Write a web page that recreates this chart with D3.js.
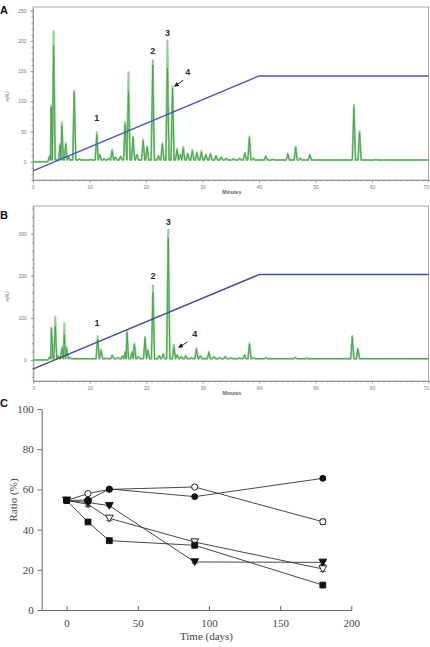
<!DOCTYPE html>
<html>
<head>
<meta charset="utf-8">
<script src="https://cdn.jsdelivr.net/npm/d3@7"></script>
<style>
  body { margin: 0; background: #fff; }
  svg { display: block; }
</style>
</head>
<body>
<script>
// ---------- panels A and B: chromatograms ----------
// each peak: [retention time (min), light trace mAU, dark trace mAU]
const peaksA = [
  [3.0, 10, 10], [3.2, 93, 90], [3.65, 216, 192], [4.8, 30, 28], [5.1, 65, 60],
  [5.8, 31, 29], [6.3, 8, 8], [7.3, 117, 115], [8.2, 5, 5], [9.0, 3, 3],
  [10.2, 4, 4], [11.3, 49, 45], [11.8, 12, 12], [12.6, 5, 5], [13.4, 6, 6],
  [14.0, 21, 18], [14.6, 8, 8], [15.5, 9, 9], [16.3, 66, 62], [16.9, 148, 116],
  [17.7, 42, 40], [18.4, 12, 12], [19.5, 37, 35], [20.2, 26, 24], [21.2, 168, 160],
  [22.2, 10, 10], [22.9, 31, 29], [23.8, 200, 155], [24.7, 125, 122], [25.5, 22, 20],
  [26.1, 12, 12], [26.6, 25, 22], [27.4, 14, 14], [28.2, 20, 18], [29.0, 16, 15],
  [29.8, 18, 16], [30.6, 12, 12], [31.4, 14, 13], [32.4, 10, 10], [33.3, 8, 8],
  [34.2, 6, 6], [35.5, 5, 5], [36.6, 6, 6], [37.5, 15, 14], [38.3, 42, 40],
  [39.0, 6, 6], [41.2, 10, 9], [42.5, 4, 4], [45.1, 14, 13], [46.5, 25, 24],
  [47.3, 6, 6], [49.0, 12, 11], [56.8, 94, 90], [57.8, 51, 48], [60.7, 4, 4]
];
const peaksB = [
  [3.0, 8, 8], [3.2, 77, 75], [3.9, 103, 80], [4.4, 10, 10], [5.1, 30, 28],
  [5.5, 87, 60], [5.9, 30, 28], [6.5, 6, 6], [8.5, 3, 3], [10.0, 3, 3],
  [11.4, 57, 50], [12.0, 25, 22], [13.0, 4, 4], [14.0, 12, 10], [15.0, 6, 6],
  [15.8, 10, 10], [16.3, 20, 18], [16.6, 69, 65], [17.5, 20, 18], [17.9, 40, 38],
  [18.6, 8, 8], [19.8, 55, 52], [20.3, 25, 22], [21.2, 177, 160], [22.3, 10, 10],
  [23.0, 15, 14], [23.9, 310, 290], [24.9, 36, 30], [25.5, 12, 12], [26.2, 8, 8],
  [27.0, 10, 10], [28.0, 6, 6], [28.9, 28, 26], [29.6, 10, 10], [31.1, 20, 18],
  [32.0, 8, 8], [33.0, 6, 6], [34.0, 8, 8], [35.0, 5, 5], [36.5, 5, 5],
  [37.4, 12, 12], [38.3, 40, 38], [39.0, 5, 5], [41.2, 5, 5], [43.5, 3, 3],
  [46.4, 6, 6], [48.5, 4, 4], [56.5, 57, 55], [57.5, 28, 26]
];
// solvent gradient overlay: [min, value on the mAU axis]
const gradientA = [[0, -15], [40, 142], [70, 142]];
const gradientB = [[0, -21], [40, 203], [70, 203]];

// peak numbers and the arrow to peak 4: [text, min, mAU]
const labelsA = [["1", 11.3, 72], ["2", 21.2, 183], ["3", 23.8, 213], ["4", 27.4, 149]];
const labelsB = [["1", 11.3, 89], ["2", 21.2, 201], ["3", 23.9, 328], ["4", 28.6, 61]];
const arrowA = [[26.6, 135], [25.1, 125]];
const arrowB = [[27.3, 43], [25.8, 30]];

const minuteTicks = [0, 10, 20, 30, 40, 50, 60, 70];
const mauTicksA = [0, 50, 100, 150, 200, 250];
const mauTicksB = [0, 100, 200, 300];

// ---------- panel C: ratio over storage time ----------
const days = [0, 15, 30, 90, 180];
const filledCircle = [54.5, 54.7, 60.2, 56.4, 65.5];
const openCircle   = [54.5, 57.9, 60.0, 61.2, 43.9];
const filledTri    = [54.5, 53.5, 51.9, 23.9, 23.7];
const openTri      = [54.5, 52.6, 45.6, 33.8, 20.4];
const filledSquare = [54.5, 43.8, 34.5, 32.2, 12.4];
const errFilledCircle = [0.4, 0.4, 0.5, 0.5, 0.6];
const errOpenCircle   = [0.4, 0.6, 0.6, 0.6, 1.3];
const errFilledTri    = [0.4, 0.5, 0.5, 0.6, 1.1];
const errOpenTri      = [0.4, 1.2, 1.2, 0.8, 1.3];
const errFilledSquare = [0.4, 0.6, 0.6, 0.8, 0.6];
const dayTicks = [0, 50, 100, 150, 200];
const ratioTicks = [0, 20, 40, 60, 80, 100];

const svg = d3.select("body").append("svg")
  .attr("width", 430)
  .attr("height", 647);

// turns the peak list into the vertices of a trace
function buildTrace(peaks, k, base) {
  let pts = [[0, 0], [peaks[0][0] - 0.4, 0]];
  peaks.forEach((p, i) => {
    let prev = i > 0 ? peaks[i - 1][0] : -Infinity;
    let next = i < peaks.length - 1 ? peaks[i + 1][0] : Infinity;
    let l = Math.max(p[0] - 0.28, (p[0] + prev) / 2);
    let r = Math.min(p[0] + 0.28, (p[0] + next) / 2);
    pts.push([l, base], [p[0], p[k]], [r, base]);
  });
  pts.push([70, base]);
  return pts;
}

function drawChrom(o) {
  let x = d3.scaleLinear().domain([0, 70]).range([o.left, o.right]);
  let y = d3.scaleLinear().domain(o.yDomain).range([o.bottom, o.top]);
  let g = svg.append("g");

  // frame
  g.append("rect")
    .attr("x", o.left).attr("y", o.top)
    .attr("width", o.right - o.left).attr("height", o.bottom - o.top)
    .attr("fill", "none").attr("stroke", "#a8a8a8").attr("stroke-width", 1);

  // minor ticks
  g.append("g")
    .attr("transform", "translate(0," + o.bottom + ")")
    .call(d3.axisBottom(x).tickValues(d3.range(0, 71, 1)).tickSize(1.5).tickFormat(""))
    .call(s => s.select(".domain").remove());
  g.append("g")
    .attr("transform", "translate(" + o.left + ",0)")
    .call(d3.axisLeft(y).tickValues(d3.range(o.minorStart, o.yDomain[1], o.minorStep)).tickSize(1.5).tickFormat(""))
    .call(s => s.select(".domain").remove());

  // major ticks
  let xa = g.append("g")
    .attr("transform", "translate(0," + o.bottom + ")")
    .call(d3.axisBottom(x).tickValues(minuteTicks).tickSize(2.5).tickPadding(3).tickSizeOuter(0));
  let ya = g.append("g")
    .attr("transform", "translate(" + o.left + ",0)")
    .call(d3.axisLeft(y).tickValues(o.ticks).tickSize(2.5).tickPadding(4).tickSizeOuter(0));
  [xa, ya].forEach(a => {
    a.select(".domain").attr("stroke", "#999");
    a.selectAll(".tick line").attr("stroke", "#999");
    a.selectAll("text").attr("fill", "#7a7a7a").style("font-size", "5px").style("font-family", "Arial, 'Liberation Sans', sans-serif");
  });
  // last label sits at the image edge
  xa.selectAll(".tick text").filter(d => d === 70).attr("text-anchor", "end");
  g.selectAll("line").attr("stroke", "#9a9a9a");

  g.append("text")
    .attr("x", (o.left + o.right) / 2 + 1)
    .attr("y", o.bottom + 14)
    .attr("text-anchor", "middle")
    .style("font-family", "Arial, 'Liberation Sans', sans-serif")
    .style("font-size", "5px").style("font-weight", "bold")
    .attr("fill", "#666")
    .text("Minutes");
  g.append("text")
    .attr("transform", "translate(9," + ((o.top + o.bottom) / 2 + 3) + ") rotate(-90)")
    .attr("text-anchor", "middle")
    .style("font-family", "Arial, 'Liberation Sans', sans-serif")
    .style("font-size", "4.5px")
    .attr("fill", "#777")
    .text("mAU");

  let line = d3.line().x(d => x(d[0])).y(d => y(d[1]));

  // two overlaid traces, light and dark green
  g.append("path")
    .attr("d", line(buildTrace(o.peaks, 1, o.base)))
    .attr("fill", "none").attr("stroke", "#8fd08f").attr("stroke-width", 2)
    .attr("stroke-linejoin", "round");
  g.append("path")
    .attr("d", line(buildTrace(o.peaks, 2, o.base)))
    .attr("fill", "none").attr("stroke", "#3f9a45").attr("stroke-width", 0.8)
    .attr("stroke-linejoin", "round");

  // gradient
  g.append("path")
    .attr("d", line(o.gradient))
    .attr("fill", "none").attr("stroke", o.gradColor).attr("stroke-width", 1.4);

  // labels
  g.selectAll(".plabel")
    .data(o.labels)
    .enter().append("text")
    .attr("x", d => x(d[1]))
    .attr("y", d => y(d[2]))
    .attr("dy", "0.35em")
    .attr("text-anchor", "middle")
    .style("font-family", "Arial, 'Liberation Sans', sans-serif")
    .style("font-size", "9px").style("font-weight", "bold")
    .attr("fill", "#2a2a2a")
    .text(d => d[0]);

  g.append("line")
    .attr("x1", x(o.arrow[0][0])).attr("y1", y(o.arrow[0][1]))
    .attr("x2", x(o.arrow[1][0])).attr("y2", y(o.arrow[1][1]))
    .attr("stroke", "#222").attr("stroke-width", 1)
    .attr("marker-end", "url(#arrowhead)");
}

svg.append("defs").append("marker")
  .attr("id", "arrowhead")
  .attr("viewBox", "0 0 10 10")
  .attr("refX", 8).attr("refY", 5)
  .attr("markerWidth", 5).attr("markerHeight", 5)
  .attr("orient", "auto")
  .append("path")
  .attr("d", "M0,0L10,5L0,10z")
  .attr("fill", "#222");

drawChrom({
  left: 33, right: 428.5, top: 7, bottom: 180,
  yDomain: [-30, 256], ticks: mauTicksA, minorStart: -30, minorStep: 10,
  peaks: peaksA, base: 3, gradient: gradientA, gradColor: "#4c52c4",
  labels: labelsA, arrow: arrowA
});
drawChrom({
  left: 33.3, right: 428.5, top: 206, bottom: 381,
  yDomain: [-50, 366], ticks: mauTicksB, minorStart: -40, minorStep: 20,
  peaks: peaksB, base: 3, gradient: gradientB, gradColor: "#43509e",
  labels: labelsB, arrow: arrowB
});

// panel letters
[["A", 0, 14], ["B", 0, 219], ["C", 0, 407]].forEach(p => {
  svg.append("text")
    .attr("x", p[1]).attr("y", p[2])
    .style("font-family", "Arial, 'Liberation Sans', sans-serif")
    .style("font-size", "11px").style("font-weight", "bold")
    .attr("fill", "#111")
    .text(p[0]);
});

// ---------- panel C ----------
let xC = d3.scaleLinear().domain([-17.5, 200]).range([41.7, 351.3]);
let yC = d3.scaleLinear().domain([0, 100]).range([610, 409]);
let gc = svg.append("g");

let xAxC = gc.append("g")
  .attr("transform", "translate(0,610)")
  .call(d3.axisBottom(xC).tickValues(dayTicks).tickSize(-4).tickSizeOuter(0).tickPadding(9));
let yAxC = gc.append("g")
  .attr("transform", "translate(41.7,0)")
  .call(d3.axisLeft(yC).tickValues(ratioTicks).tickSize(4).tickSizeOuter(0).tickPadding(4));
[xAxC, yAxC].forEach(a => {
  a.select(".domain").attr("stroke", "#666");
  a.selectAll(".tick line").attr("stroke", "#666");
  a.selectAll("text").attr("fill", "#444")
    .style("font-family", "'Liberation Serif', 'Times New Roman', serif").style("font-size", "11px");
});

gc.append("text")
  .attr("x", 206.5).attr("y", 640)
  .attr("text-anchor", "middle")
  .style("font-family", "'Liberation Serif', 'Times New Roman', serif").style("font-size", "11px")
  .attr("fill", "#444")
  .text("Time  (days)");
gc.append("text")
  .attr("transform", "translate(17,500) rotate(-90)")
  .attr("text-anchor", "middle")
  .style("font-family", "'Liberation Serif', 'Times New Roman', serif").style("font-size", "11px")
  .attr("fill", "#444")
  .text("Ratio  (%)");

let series = [
  { vals: openCircle, err: errOpenCircle, sym: d3.symbolCircle, size: 30, fill: "#fff", rot: 0 },
  { vals: openTri, err: errOpenTri, sym: d3.symbolTriangle, size: 26, fill: "#fff", rot: 180 },
  { vals: filledTri, err: errFilledTri, sym: d3.symbolTriangle, size: 26, fill: "#111", rot: 180 },
  { vals: filledSquare, err: errFilledSquare, sym: d3.symbolSquare, size: 34, fill: "#111", rot: 0 },
  { vals: filledCircle, err: errFilledCircle, sym: d3.symbolCircle, size: 28, fill: "#111", rot: 0 }
];

let lineC = d3.line().x(d => xC(d[0])).y(d => yC(d[1]));

series.forEach(s => {
  let pts = days.map((d, i) => [d, s.vals[i], s.err[i]]);
  gc.append("path")
    .attr("d", lineC(pts))
    .attr("fill", "none").attr("stroke", "#333").attr("stroke-width", 0.9);
});

series.forEach(s => {
  let pts = days.map((d, i) => [d, s.vals[i], s.err[i]]);
  let eb = gc.append("g").attr("stroke", "#222").attr("stroke-width", 0.8);
  pts.forEach(p => {
    let x0 = xC(p[0]), y1 = yC(p[1] - p[2]), y2 = yC(p[1] + p[2]);
    eb.append("line").attr("x1", x0).attr("x2", x0).attr("y1", y1).attr("y2", y2);
    eb.append("line").attr("x1", x0 - 3).attr("x2", x0 + 3).attr("y1", y1).attr("y2", y1);
    eb.append("line").attr("x1", x0 - 3).attr("x2", x0 + 3).attr("y1", y2).attr("y2", y2);
  });
  gc.append("g").selectAll("path")
    .data(pts)
    .enter().append("path")
    .attr("d", d3.symbol().type(s.sym).size(s.size))
    .attr("transform", d => "translate(" + xC(d[0]) + "," + (yC(d[1]) + (s.rot ? -1 : 0)) + ") rotate(" + s.rot + ")")
    .attr("fill", s.fill)
    .attr("stroke", "#111").attr("stroke-width", 0.9);
});
</script>
</body>
</html>
